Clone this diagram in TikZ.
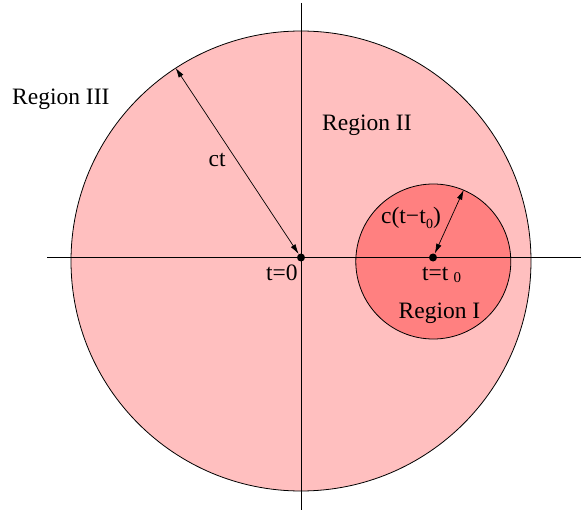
\documentclass[tikz,border=0pt]{standalone}
\usepackage{fontspec}
\setmainfont{Liberation Serif}
\usetikzlibrary{arrows.meta}
\definecolor{pinkA}{RGB}{255,191,191}
\definecolor{pinkB}{RGB}{255,128,128}
\tikzset{
  lbl/.style={font=\fontsize{23.5}{28}\selectfont, inner sep=0pt, anchor=base west},
  dotnode/.style={circle, fill=black, inner sep=0pt, minimum size=8pt},
  axisline/.style={line width=0.9pt},
  radarrow/.style={{Latex[length=10pt,width=5.5pt]}-{Latex[length=10pt,width=5.5pt]}, line width=0.7pt},
  region/.style={circle, draw=black, line width=0.8pt, inner sep=0pt}
}
\begin{document}
\begin{tikzpicture}[x=1pt,y=-1pt]
\useasboundingbox (0,0) rectangle (581,513);
\node[region, fill=pinkA, minimum size=460pt] (big) at (301,261) {};
\node[region, fill=pinkB, minimum size=155pt] (small) at (433.3,261.5) {};
\coordinate (xl) at (47,257.5);
\coordinate (xr) at (581,257.5);
\coordinate (yt) at (301,3);
\coordinate (yb) at (301,510);
\draw[axisline] (xl) -- (xr);
\draw[axisline] (yt) -- (yb);
\node[dotnode] (o) at (301,257.5) {};
\node[dotnode] (p) at (433,257.5) {};
\draw[radarrow] (o) -- (big.123.5);
\draw[radarrow] (p) -- (small.67.4);
\node[lbl] (r3) at (12,105) {Region III};
\node[lbl] (r2) at (322,131) {Region II};
\node[lbl] (r1) at (398.5,318.3) {Region I};
\node[lbl] (ct) at (208.5,166.7) {ct};
\node[lbl] (t0) at (266,280) {t=0};
\node[lbl] (tt0) at (422,280) {t=t\hspace{5pt}\raisebox{-2.7pt}{\fontsize{15}{15}\selectfont 0}};
\node[lbl] (ctt) at (381,223.3) {c(t−t\kern0.3pt\raisebox{-5pt}{\fontsize{14}{14}\selectfont 0})};
\end{tikzpicture}
\end{document}
